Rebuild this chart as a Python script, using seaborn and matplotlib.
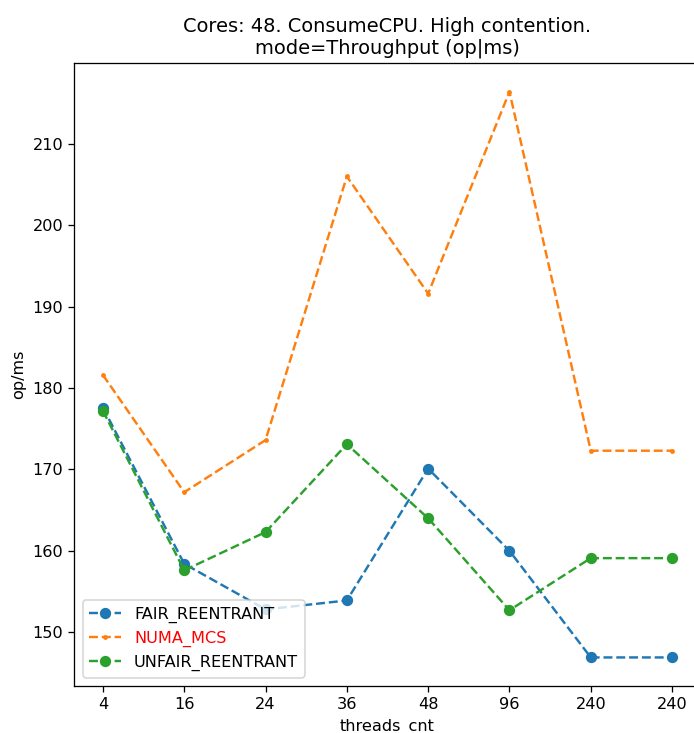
import matplotlib
matplotlib.use("Agg")
import matplotlib.pyplot as plt
import seaborn as sns
import pandas as pd

threads = ["4", "16", "24", "36", "48", "96", "240", "240"]
fair_reentrant = [177.6, 158.4, 152.8, 153.9, 170.1, 160.0, 146.9, 146.9]
numa_mcs = [181.6, 167.2, 173.6, 206.0, 191.6, 216.4, 172.3, 172.3]
unfair_reentrant = [177.2, 157.6, 162.3, 173.1, 164.0, 152.7, 159.1, 159.1]

series = [
    ("FAIR_REENTRANT", fair_reentrant, "o", 6, "#1f77b4"),
    ("NUMA_MCS", numa_mcs, ".", 6, "#ff7f0e"),
    ("UNFAIR_REENTRANT", unfair_reentrant, "o", 6, "#2ca02c"),
]

DPI = 116
fig, ax = plt.subplots(figsize=(694 / DPI, 733 / DPI), dpi=DPI)
pos = list(range(len(threads)))
for name, vals, mk, ms, col in series:
    df = pd.DataFrame({"x": pos, "y": vals})
    sns.lineplot(data=df, x="x", y="y", ax=ax, marker=mk, markersize=ms,
                 linestyle="--", color=col, label=name, sort=False,
                 markeredgewidth=0 if mk == "." else 1, markeredgecolor=col)

ax.set_xticks(pos)
ax.set_xticklabels(threads)
ax.set_xlabel("threads_cnt", labelpad=4)
ax.set_ylabel("op/ms")
ax.set_title("Cores: 48. ConsumeCPU. High contention.\nmode=Throughput (op|ms)")
leg = ax.legend(loc="lower left")
for t in leg.get_texts():
    if t.get_text() == "NUMA_MCS":
        t.set_color("red")
fig.subplots_adjust(left=0.1073, right=1.0094, top=0.9134, bottom=0.0645)
fig.savefig("out.png", dpi=DPI)
